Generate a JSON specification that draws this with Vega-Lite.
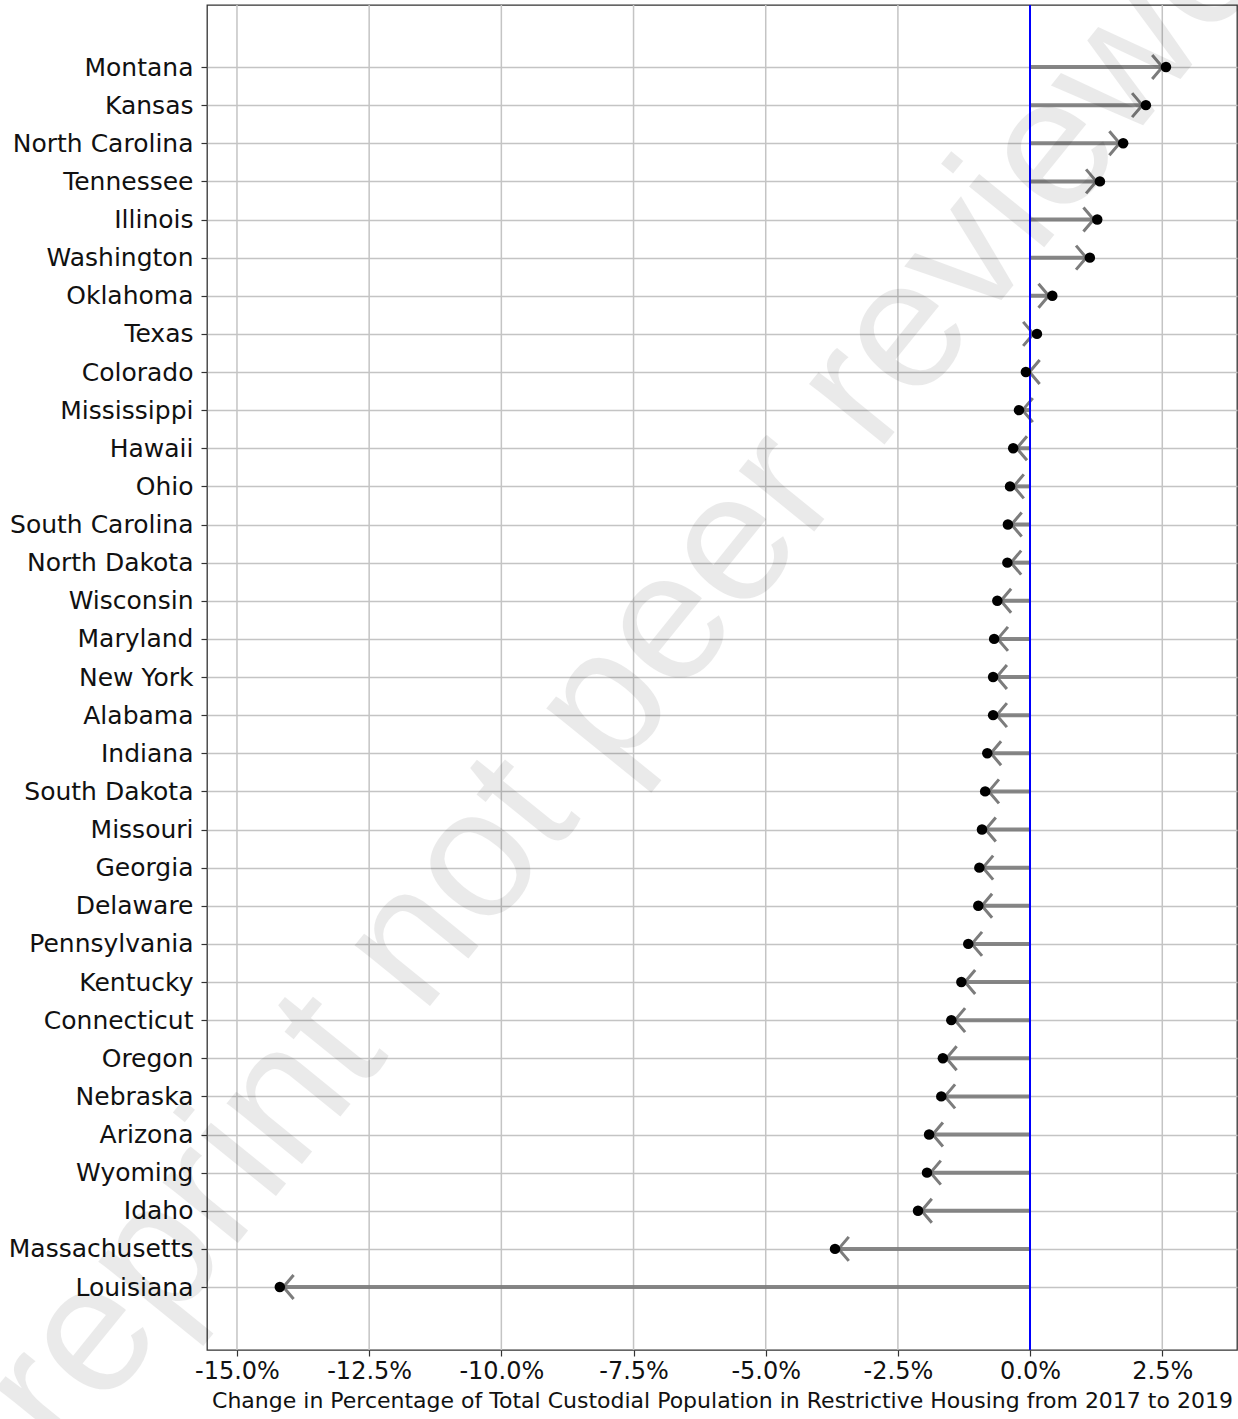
{
  "$schema": "https://vega.github.io/schema/vega-lite/v6.json",
  "autosize": {"type": "none"},
  "padding": {"left": 207, "top": 5, "right": 1, "bottom": 69},
  "width": 1030,
  "height": 1345,
  "background": "white",
  "config": {
    "view": {"stroke": "#333333", "strokeWidth": 1.3},
    "font": "DejaVu Sans",
    "axis": {
      "gridColor": "#c4c4c4",
      "gridWidth": 1.5,
      "tickColor": "#333333",
      "tickSize": 6,
      "tickWidth": 1.2,
      "domain": false,
      "labelFont": "DejaVu Sans",
      "labelColor": "#111111",
      "labelLimit": 0,
      "titleFont": "DejaVu Sans",
      "titleColor": "#111111",
      "titleFontWeight": "normal"
    }
  },
  "datasets": {
    "states": [
      {"state": "Montana", "change": 2.57},
      {"state": "Kansas", "change": 2.19},
      {"state": "North Carolina", "change": 1.76},
      {"state": "Tennessee", "change": 1.32},
      {"state": "Illinois", "change": 1.27},
      {"state": "Washington", "change": 1.13},
      {"state": "Oklahoma", "change": 0.42},
      {"state": "Texas", "change": 0.13},
      {"state": "Colorado", "change": -0.08},
      {"state": "Mississippi", "change": -0.21},
      {"state": "Hawaii", "change": -0.32},
      {"state": "Ohio", "change": -0.38},
      {"state": "South Carolina", "change": -0.42},
      {"state": "North Dakota", "change": -0.43},
      {"state": "Wisconsin", "change": -0.62},
      {"state": "Maryland", "change": -0.68},
      {"state": "New York", "change": -0.7},
      {"state": "Alabama", "change": -0.7},
      {"state": "Indiana", "change": -0.81},
      {"state": "South Dakota", "change": -0.85},
      {"state": "Missouri", "change": -0.91},
      {"state": "Georgia", "change": -0.96},
      {"state": "Delaware", "change": -0.98},
      {"state": "Pennsylvania", "change": -1.17},
      {"state": "Kentucky", "change": -1.3},
      {"state": "Connecticut", "change": -1.49},
      {"state": "Oregon", "change": -1.65},
      {"state": "Nebraska", "change": -1.68},
      {"state": "Arizona", "change": -1.91},
      {"state": "Wyoming", "change": -1.95},
      {"state": "Idaho", "change": -2.12},
      {"state": "Massachusetts", "change": -3.69},
      {"state": "Louisiana", "change": -14.19}
    ],
    "xticks": [
      {"tick": -15}, {"tick": -12.5}, {"tick": -10}, {"tick": -7.5},
      {"tick": -5}, {"tick": -2.5}, {"tick": 0}, {"tick": 2.5}
    ]
  },
  "data": {"name": "states"},
  "encoding": {
    "y": {
      "field": "state",
      "type": "nominal",
      "sort": null,
      "scale": {"type": "point", "padding": 0, "range": [62, 1282]},
      "axis": {
        "title": null,
        "grid": true,
        "labelFontSize": 25,
        "labelPadding": 8
      }
    }
  },
  "layer": [
    {
      "data": {"name": "xticks"},
      "mark": {"type": "rule", "color": "#c4c4c4", "strokeWidth": 1.5},
      "encoding": {
        "x": {"field": "tick", "type": "quantitative"},
        "y": null
      }
    },
    {
      "mark": {"type": "rule", "color": "#7a7a7a", "strokeWidth": 4, "opacity": 0.9},
      "encoding": {
        "x": {
          "field": "change",
          "type": "quantitative",
          "scale": {"domain": [-15.567, 3.913], "nice": false, "zero": false},
          "axis": {
            "values": [-15, -12.5, -10, -7.5, -5, -2.5, 0, 2.5],
            "labelExpr": "(datum.value < 0 ? '-' : '') + format(abs(datum.value), '.1f') + '%'",
            "labelFontSize": 24,
            "labelPadding": 3,
            "grid": false,
            "title": "Change in Percentage of Total Custodial Population in Restrictive Housing from 2017 to 2019",
            "titleFontSize": 22,
            "titlePadding": 7
          }
        },
        "x2": {"datum": 0}
      }
    },
    {
      "mark": {
        "type": "point",
        "shape": "M-1.15,-1L-0.3,0L-1.15,1",
        "filled": false,
        "size": 576,
        "strokeWidth": 3,
        "color": "#6e6e6e",
        "opacity": 0.9
      },
      "encoding": {
        "x": {"field": "change", "type": "quantitative"},
        "angle": {"condition": {"test": "datum.change < 0", "value": 180}, "value": 0}
      }
    },
    {
      "mark": {"type": "rule", "color": "#0000ff", "strokeWidth": 1.5},
      "encoding": {"x": {"datum": 0}, "y": null}
    },
    {
      "mark": {"type": "circle", "color": "#000000", "size": 110, "opacity": 1},
      "encoding": {
        "x": {"field": "change", "type": "quantitative"}
      }
    },
    {
      "data": {"values": [{"label": "Preprint not peer reviewed", "state": "New York"}]},
      "mark": {
        "type": "text",
        "font": "Liberation Sans",
        "fontSize": 183,
        "angle": -51,
        "align": "center",
        "baseline": "middle",
        "dy": 12,
        "color": "#000000",
        "opacity": 0.08
      },
      "encoding": {
        "x": {"datum": -7.945},
        "y": {"field": "state", "type": "nominal"},
        "text": {"field": "label"}
      }
    }
  ]
}
